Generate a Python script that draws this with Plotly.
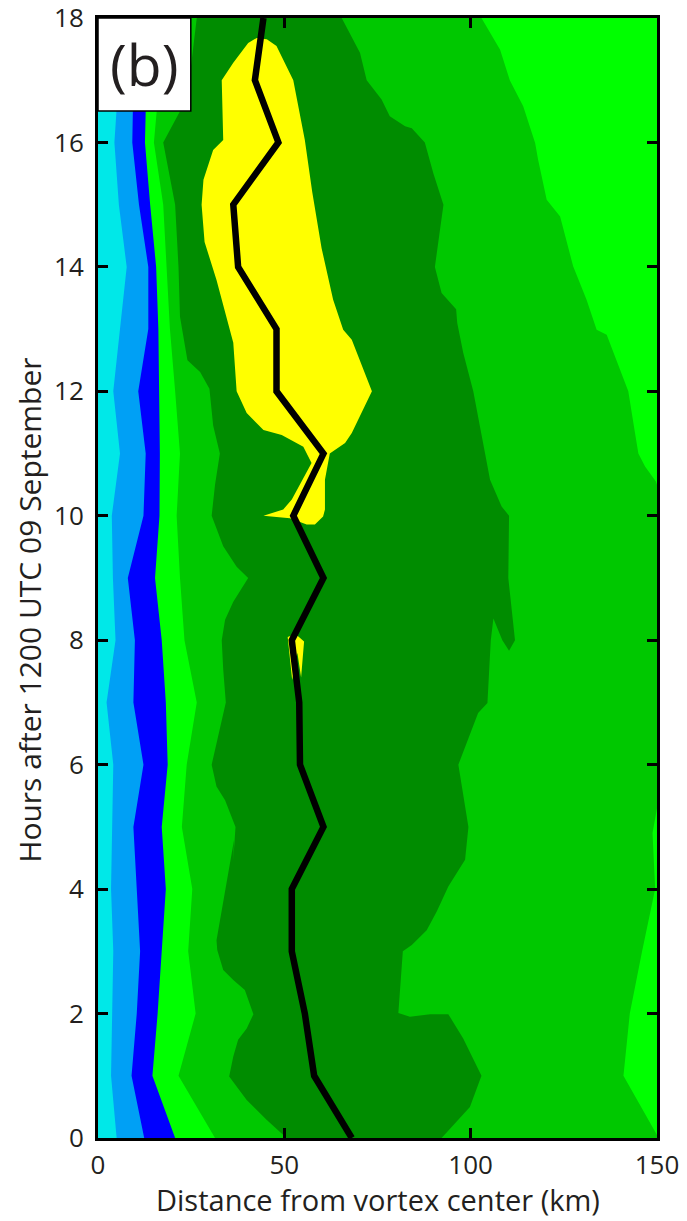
import plotly.graph_objects as go

# ---------------------------------------------------------------------------
# Tangential wind bands vs. radius and time (hours after 1200 UTC 09 Sep)
# ---------------------------------------------------------------------------
hours = list(range(19))

# Radius (km) of the outer edge of each inner band, hourly
edge_cyan = [5.0, 3.5, 3.7, 4.1, 3.5, 3.7, 4.1, 2.3, 4.7, 4.0, 3.7, 5.9, 4.1,
             5.9, 7.7, 5.6, 4.4, 5.5, 5.5]
edge_lightblue = [12.4, 9.0, 10.4, 11.3, 10.4, 9.5, 12.2, 9.5, 9.9, 8.0, 12.2,
                  12.8, 10.8, 13.5, 13.5, 11.0, 9.2, 9.5, 9.5]
edge_blue = [20.7, 14.6, 16.0, 17.1, 18.2, 17.1, 18.7, 18.2, 17.1, 15.3, 16.5,
             16.6, 16.4, 16.2, 15.6, 14.0, 12.6, 13.0, 13.0]
edge_bright_inner = [31.4, 21.6, 26.2, 24.2, 25.3, 22.5, 23.8, 26.5, 23.2,
                     22.0, 21.1, 22.0, 20.7, 19.3, 18.4, 17.5, 15.0, 16.5, 17.0]

# Inner edge of the dark-green band (km, hour), bottom to top
dg_inner_km = [50.6, 45.3, 39.9, 35.2, 36.3, 37.6, 39.9, 41.7, 39.4, 36.3,
               33.6, 32.0, 31.8, 34.1, 36.5, 36.3, 36.9, 34.1, 31.8, 30.5,
               32.3, 34.3, 33.6, 33.2, 34.1, 36.3, 40.3, 37.2, 33.6, 30.5,
               31.4, 32.7, 30.9, 29.9, 27.4, 24.0, 22.0, 21.6, 20.7, 17.5,
               22.0, 24.5, 26.5]
dg_inner_hr = [0.0, 0.29, 0.61, 0.99, 1.31, 1.58, 1.76, 1.99, 2.38, 2.54,
               2.70, 3.02, 3.18, 3.99, 4.79, 4.47, 5.0, 5.43, 5.65, 6.0,
               6.5, 7.0, 7.53, 8.0, 8.33, 8.62, 9.0, 9.18, 9.51, 10.0,
               10.5, 11.0, 11.45, 12.04, 12.31, 12.5, 13.2, 14.0, 15.0, 16.0,
               16.5, 17.0, 18.0]

# Outer edge of the dark-green band (km, hour), top to bottom
dg_outer_km = [65.4, 70.3, 72.1, 76.1, 78.3, 82.4, 84.2, 87.7, 90.0, 92.7,
               90.4, 92.2, 96.1, 96.4, 98.0, 100.7, 103.4, 105.2, 108.3, 110.3,
               110.1, 111.9, 110.3, 108.5, 106.1, 105.4, 104.5, 102.0, 96.7,
               99.4, 98.5, 96.2, 94.0, 90.9, 88.2, 84.2, 81.8, 80.6, 83.7,
               89.1, 94.0, 98.0, 102.9, 99.8, 92.2]
dg_outer_hr = [18.0, 17.44, 17.0, 16.69, 16.42, 16.26, 16.23, 16.0, 15.5, 15.0,
               14.0, 13.58, 13.32, 13.10, 12.62, 12.0, 11.11, 10.58, 10.15, 10.0,
               9.0, 8.0, 7.83, 8.0, 8.35, 8.0, 6.99, 6.83, 6.0,
               5.0, 4.47, 4.26, 4.04, 3.64, 3.34, 3.1, 3.0, 2.01, 1.95,
               1.99, 1.99, 1.6, 1.0, 0.5, 0.0]

# Outer edge of the medium-green band (km, hour), top to bottom
mg_outer_km = [102.9, 107.9, 110.5, 114.1, 117.3, 118.1, 120.4, 124.0, 127.5,
               131.1, 133.8, 136.5, 138.7, 142.3, 144.1, 145.0, 146.8, 149.7,
               150.0, 150.0, 148.8, 149.5, 146.0, 142.7, 141.0, 150.0, 150.0]
mg_outer_hr = [18.0, 17.49, 17.0, 16.58, 15.99, 15.72, 15.08, 14.81, 14.01,
               13.47, 12.99, 12.91, 12.56, 12.0, 11.33, 11.0, 10.79, 10.55,
               10.5, 5.3, 4.9, 4.0, 3.0, 2.0, 1.0, 0.05, 0.0]

# Wind maximum region (km, hour), closed outline
yellow_km = [42.6, 45.3, 47.9, 52.4, 55.5, 57.5, 60.0, 63.1, 65.8, 68.1, 73.5,
             68.1, 66.3, 62.2, 60.9, 60.9, 60.4, 58.2, 56.0, 51.5, 47.9, 44.4,
             49.7, 52.0, 57.3, 55.1, 49.3, 44.4, 39.9, 37.2, 36.3, 31.8, 28.6,
             27.8, 28.3, 30.9, 33.6, 33.2, 36.3, 40.3]
yellow_hr = [17.68, 17.66, 17.55, 17.0, 16.04, 15.2, 14.3, 13.47, 12.99, 12.83,
             12.0, 11.33, 11.17, 11.0, 10.58, 10.1, 9.99, 9.86, 9.86, 9.96,
             9.98, 10.0, 10.1, 10.26, 10.85, 11.11, 11.30, 11.38, 11.65, 12.0,
             12.78, 13.79, 14.4, 15.0, 15.4, 15.88, 16.04, 17.0, 17.28, 17.6]
yellow_spot_km = [50.9, 53.0, 55.3, 54.5, 53.5, 52.1]
yellow_spot_hr = [8.05, 8.1, 7.98, 7.4, 7.8, 7.36]

# Radius of maximum wind (km), hourly
rmw_km = [68.1, 58.0, 55.5, 52.0, 52.0, 60.5, 54.2, 54.0, 52.0, 60.5, 52.4,
          60.5, 47.9, 47.9, 37.6, 36.3, 48.4, 42.1, 44.4]

x_ticks = [0, 50, 100, 150]
y_ticks = list(range(0, 19, 2))
x_title = "Distance from vortex center (km)"
y_title = "Hours after 1200 UTC 09 September"
panel_label = "(b)"

colors = {
    "cyan": "#00E8E8",
    "lightblue": "#00A0F5",
    "blue": "#0000FF",
    "bright": "#00FF00",
    "medium": "#00C800",
    "dark": "#008C00",
    "yellow": "#FFFF00",
}


def band(x, y, color):
    return go.Scatter(x=x, y=y, mode="lines", fill="toself", fillcolor=color,
                      line=dict(width=0, color=color), hoverinfo="skip",
                      showlegend=False)


fig = go.Figure()

# medium green band (bright green is the plot background)
fig.add_trace(band(edge_bright_inner + mg_outer_km, hours + mg_outer_hr,
                   colors["medium"]))
# dark green band
fig.add_trace(band(dg_inner_km + dg_outer_km, dg_inner_hr + dg_outer_hr,
                   colors["dark"]))
# wind maximum
fig.add_trace(band(yellow_km, yellow_hr, colors["yellow"]))
fig.add_trace(band(yellow_spot_km, yellow_spot_hr, colors["yellow"]))
# core bands
for edge, key in [(edge_blue, "blue"), (edge_lightblue, "lightblue"),
                  (edge_cyan, "cyan")]:
    fig.add_trace(band([0] + edge + [0], [0] + hours + [18], colors[key]))

# radius of maximum wind
fig.add_trace(go.Scatter(x=rmw_km, y=hours, mode="lines",
                         line=dict(color="black", width=6.5),
                         hoverinfo="skip", showlegend=False))

font_family = "Open Sans, Noto Sans, sans-serif"
text_color = "#231F20"

axis_common = dict(
    showgrid=False, zeroline=False, showline=True, linecolor="black",
    linewidth=3, mirror="ticks", ticks="inside", ticklen=10, tickwidth=2.5,
    tickcolor="black", ticklabeloverflow="allow", automargin=False,
    tickfont=dict(family=font_family, size=26, color=text_color),
)

fig.update_layout(
    width=687, height=1221,
    margin=dict(l=98, r=30, t=18, b=83),
    paper_bgcolor="white",
    plot_bgcolor=colors["bright"],
    xaxis=dict(range=[0, 150], tickvals=x_ticks, ticklabelstandoff=2,
               **axis_common),
    yaxis=dict(range=[0, 18], tickvals=y_ticks, ticklabelstandoff=6,
               **axis_common),
    shapes=[dict(type="rect", xref="x domain", yref="y domain",
                 x0=0, x1=0.166, y0=0.917, y1=1,
                 fillcolor="white", line=dict(color="black", width=1.5),
                 layer="above")],
    annotations=[
        dict(text=panel_label, xref="x domain", yref="y domain",
             x=0.083, y=0.9585, showarrow=False,
             xanchor="center", yanchor="middle",
             font=dict(family=font_family, size=57, color=text_color)),
        dict(text=x_title, xref="paper", yref="paper",
             x=0.5, y=-0.0545, showarrow=False,
             xanchor="center", yanchor="middle",
             font=dict(family=font_family, size=29, color=text_color)),
        dict(text=y_title, xref="paper", yref="paper", textangle=-90,
             x=-0.123, y=0.471, showarrow=False,
             xanchor="center", yanchor="middle",
             font=dict(family=font_family, size=30, color=text_color)),
    ],
)

fig.write_html("out.html", config={"displayModeBar": False})
